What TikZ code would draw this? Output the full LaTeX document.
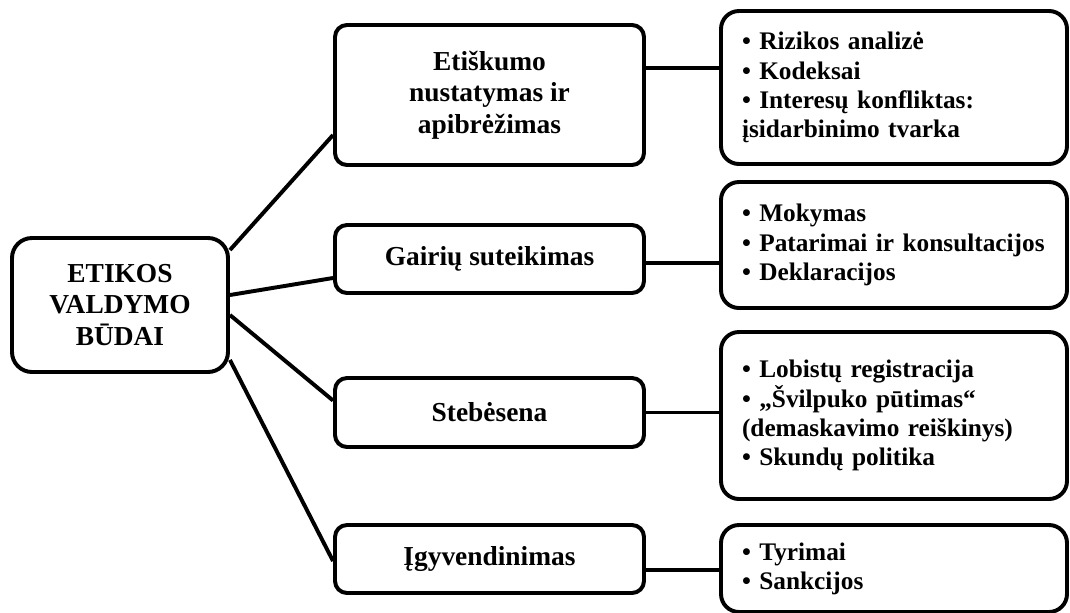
\documentclass[tikz,border=0pt]{standalone}
\usepackage{fontspec}
\setmainfont{Liberation Serif}
\usetikzlibrary{positioning}

\begin{document}
\begin{tikzpicture}[
    font=\bfseries,
    root/.style={draw, line width=2.8pt, rounded corners=0.5cm, align=center,
      minimum width=5.4cm, minimum height=3.35cm, inner sep=0pt,
      font=\fontsize{19.5}{22.5}\selectfont\bfseries},
    way/.style={draw, line width=2.8pt, rounded corners=0.3cm, align=center,
      minimum width=7.725cm, inner sep=0pt,
      font=\fontsize{19.5}{22.5}\selectfont\bfseries},
    items/.style={draw, line width=2.8pt, rounded corners=0.45cm, align=left,
      text width=7.6cm, inner xsep=0.525cm, inner ysep=0pt,
      font=\fontsize{18}{20.7}\selectfont\bfseries},
    link/.style={line width=2.8pt}
  ]

  \useasboundingbox (0,0) rectangle (26.75,-15.325);

  % Root node
  \node[root] (root) at (3.0,-7.625) {ETIKOS\\VALDYMO\\BŪDAI};

  % Ways of ethics management
  \node[way, minimum height=3.5cm] (m1) at (12.2375,-2.375) {Etiškumo\\nustatymas ir\\apibrėžimas};
  \node[way, minimum height=1.7cm] (m2) at (12.2375,-6.475) {Gairių suteikimas};
  \node[way, minimum height=1.725cm] (m3) at (12.2375,-10.3125) {Stebėsena};
  \node[way, minimum height=1.7cm] (m4) at (12.2375,-13.975) {Įgyvendinimas};

  % Measures for each way
  \node[items, minimum height=3.825cm] (r1) at (22.35,-2.1875)
    {• Rizikos analizė\\• Kodeksai\\• Interesų konfliktas:\\įsidarbinimo tvarka};
  \node[items, minimum height=3.15cm] (r2) at (22.35,-6.125)
    {• Mokymas\\• Patarimai ir konsultacijos\\• Deklaracijos};
  \node[items, minimum height=4.175cm] (r3) at (22.35,-10.3875)
    {• Lobistų registracija\\• „Švilpuko pūtimas“\\(demaskavimo reiškinys)\\• Skundų politika};
  \node[items, minimum height=2.175cm] (r4) at (22.35,-14.2125)
    {• Tyrimai\\• Sankcijos};

  % Root to ways
  \draw[link] ([yshift=1.375cm]root.east) -- ([yshift=-1.0cm]m1.west);
  \draw[link] ([yshift=0.25cm]root.east) -- ([yshift=-0.475cm]m2.west);
  \draw[link] ([yshift=-0.25cm]root.east) -- ([yshift=0.3cm]m3.west);
  \draw[link] ([yshift=-1.375cm]root.east) -- ([yshift=-0.05cm]m4.west);

  % Ways to measures
  \draw[link] ([yshift=0.675cm]m1.east) -- ([yshift=0.675cm]m1.east -| r1.west);
  \draw[link] ([yshift=-0.1cm]m2.east) -- ([yshift=-0.1cm]m2.east -| r2.west);
  \draw[link] (m3.east) -- (m3.east -| r3.west);
  \draw[link] ([yshift=-0.275cm]m4.east) -- ([yshift=-0.275cm]m4.east -| r4.west);

\end{tikzpicture}
\end{document}
